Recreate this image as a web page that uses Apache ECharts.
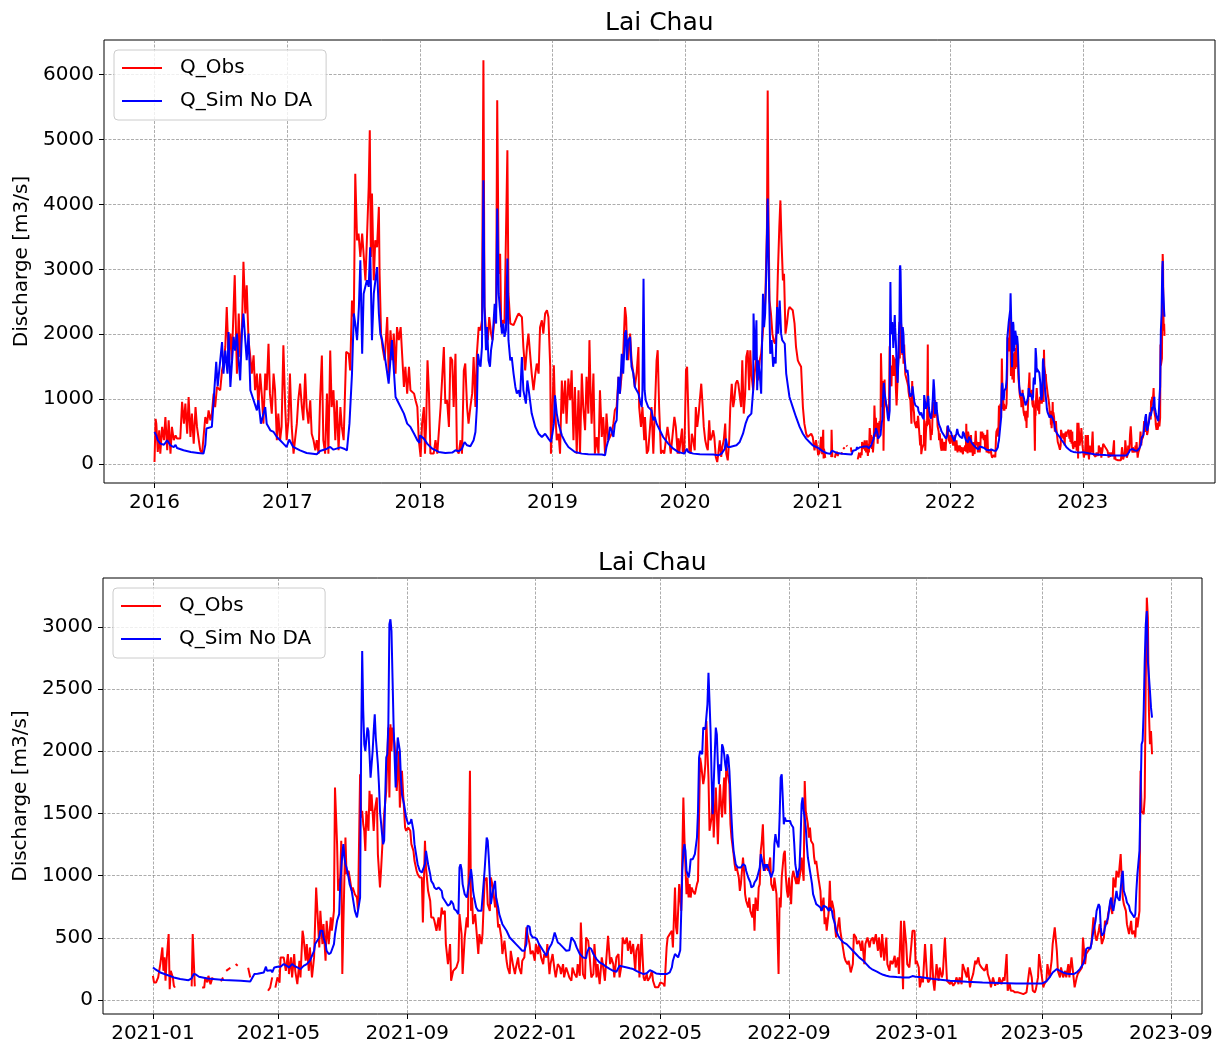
<!DOCTYPE html>
<html lang="en">
<head>
<meta charset="UTF-8">
<title>Lai Chau</title>
<style>
  html, body { margin: 0; padding: 0; background: #fff; }
  #main { width: 1227px; height: 1044px; }
</style>
</head>
<body>
<div id="main"></div>
<script src="https://cdn.jsdelivr.net/npm/echarts@6/dist/echarts.min.js"></script>
<script>
// daily discharge: [day of year, m3/s]
var obs2016 = [[0,35],[3,700],[5,625],[9,190],[13,523],[16,164],[21,575],[26,370],[30,728],[35,215],[39,677],[44,164],[48,575],[53,370],[58,445],[62,395],[71,395],[76,960],[81,625],[85,933],[90,470],[94,1035],[99,420],[103,780],[108,318],[113,880],[117,575],[122,370],[126,215],[131,164],[135,170],[140,728],[145,625],[149,830],[154,677],[158,780],[163,1087],[167,880],[172,1190],[181,1140],[186,1445],[190,1550],[195,1805],[199,2420],[204,1650],[209,2010],[213,1600],[221,2910],[227,1395],[232,2320],[236,1650],[241,2110],[245,3115],[250,2320],[254,2755],[259,1910],[264,1650],[268,1395],[273,1675],[277,1140],[282,1395],[286,880],[291,1395],[296,1035],[300,625],[305,1395],[309,1140],[314,1855],[318,1087],[323,780],[328,1395],[332,1140],[337,370],[341,780],[346,370],[350,575],[355,1830],[360,880],[364,370]];
var sim2016 = [[0,497],[5,440],[9,370],[16,318],[21,330],[26,300],[30,330],[35,370],[44,290],[53,265],[58,300],[62,250],[80,215],[100,190],[120,175],[135,164],[140,300],[143,550],[158,575],[163,600],[170,1575],[174,1200],[177,1190],[186,1880],[190,1395],[195,1750],[201,1395],[204,2035],[209,1190],[218,1960],[222,1750],[227,2010],[231,1650],[236,1290],[241,2060],[245,2320],[250,1910],[254,1600],[259,2010],[264,1140],[273,985],[282,830],[286,985],[293,625],[305,880],[309,625],[319,523],[328,497],[337,420],[346,370],[355,318],[364,267]];

var obs2017 = [[3,677],[7,1395],[12,575],[17,164],[21,370],[26,625],[30,985],[35,1240],[40,880],[44,677],[49,1395],[53,880],[58,625],[63,985],[67,470],[72,370],[77,215],[81,370],[86,164],[90,985],[95,1675],[99,370],[104,164],[109,1087],[113,164],[118,1750],[122,880],[127,1140],[132,370],[136,985],[141,215],[146,880],[150,575],[155,370],[162,1730],[169,1700],[173,1445],[178,2520],[183,2265],[187,4470],[192,3445],[196,3550],[201,3190],[206,3550],[210,3575],[215,2830],[219,3445],[224,4265],[227,5140],[230,3190],[233,4165],[238,2830],[242,3445],[247,3340],[252,3960],[254,2930],[258,2010],[262,1805],[268,1600],[275,2265],[279,1395],[284,2060],[289,1600],[293,2010],[298,1395],[302,2110],[307,1910],[312,2110],[316,1700],[321,1190],[325,1500],[330,1087],[335,1500],[339,1140],[349,1087],[353,985],[358,880],[362,370]];
var sim2017 = [[0,300],[5,380],[16,267],[35,215],[53,174],[81,154],[90,205],[109,240],[118,267],[127,225],[146,260],[158,235],[164,215],[171,625],[178,1395],[183,2320],[187,2165],[192,1910],[197,2420],[201,3140],[206,1700],[210,2625],[219,2830],[224,2730],[228,3340],[233,1910],[238,2625],[247,3035],[252,2320],[256,2010],[261,1910],[270,1600],[279,1240],[288,1910],[298,1035],[307,935],[321,780],[330,625],[339,575],[349,470],[358,370],[364,330]];

var obs2018 = [[2,113],[6,625],[11,880],[14,164],[17,575],[21,1600],[25,1100],[29,164],[34,140],[38,164],[43,370],[48,164],[52,164],[57,880],[61,880],[66,1805],[70,933],[75,985],[80,575],[84,1650],[89,1600],[93,880],[98,1700],[102,215],[107,164],[112,370],[116,164],[121,1445],[125,1550],[130,880],[134,625],[139,880],[144,1087],[148,1650],[153,880],[157,1700],[162,2110],[167,2060],[171,2215],[175,6215],[178,2420],[182,2060],[187,1910],[191,2265],[196,2010],[200,1910],[205,2215],[210,2420],[213,5600],[217,2930],[221,3240],[224,2110],[228,2215],[233,2165],[237,2165],[241,4830],[244,2625],[249,2165],[253,2165],[258,2140],[263,2165],[267,2265],[272,2320],[276,2345],[281,2265],[285,1805],[290,1445],[295,1805],[299,2010],[304,2010],[308,1395],[313,1140],[318,1395],[322,1550],[327,1395],[331,2110],[336,2215],[340,2010],[345,2320],[350,2370],[354,2265],[359,1500],[361,164],[364,164]];
var sim2018 = [[0,445],[5,470],[11,395],[20,318],[34,240],[52,190],[70,174],[89,180],[98,215],[107,200],[116,240],[123,343],[130,292],[139,277],[148,370],[153,497],[157,880],[160,1700],[164,1550],[167,1500],[171,1805],[175,4370],[178,2420],[182,1755],[185,2110],[189,1600],[193,1500],[196,1755],[200,1910],[206,2470],[210,2165],[213,3935],[217,2625],[220,2420],[226,2010],[230,2165],[233,1960],[237,2060],[241,3165],[244,1910],[249,1600],[253,1650],[258,1395],[263,1190],[267,1087],[272,1140],[276,1035],[281,1650],[285,1140],[292,933],[296,1290],[301,1087],[308,780],[318,575],[327,470],[336,420],[345,470],[354,395],[361,343]];

var obs2019 = [[0,164],[4,1525],[7,880],[12,370],[17,470],[21,164],[26,1290],[30,780],[35,1290],[39,625],[44,1318],[49,985],[53,1445],[58,370],[62,1190],[67,164],[72,1140],[76,164],[81,1395],[85,880],[90,523],[94,1345],[99,780],[102,1910],[105,1140],[108,625],[113,1395],[117,164],[122,420],[127,164],[131,1140],[136,420],[140,728],[145,164],[149,780],[154,370],[159,370],[163,470],[168,625],[172,830],[177,880],[182,1345],[186,1087],[191,1395],[195,1700],[200,2420],[203,2265],[205,1910],[209,1600],[214,2010],[218,1600],[223,1395],[227,1190],[232,1395],[237,1805],[239,880],[244,575],[248,880],[253,370],[255,728],[260,164],[264,215],[269,575],[273,880],[278,164],[282,138],[287,1600],[290,1755],[294,880],[299,164],[304,215],[308,164],[313,164],[317,575],[322,370],[326,164],[331,164],[336,728],[340,575],[345,164],[347,400],[349,164],[354,164],[357,550],[359,200],[363,164]];
var sim2019 = [[0,470],[4,625],[7,1060],[12,780],[17,625],[26,445],[35,343],[44,267],[62,190],[81,164],[99,154],[136,150],[145,138],[149,267],[154,370],[159,575],[163,523],[168,420],[172,625],[177,677],[182,1345],[186,1087],[191,1700],[195,1395],[200,2010],[203,2060],[205,1600],[209,1910],[214,1960],[218,1500],[223,1395],[227,1190],[232,1140],[237,1087],[241,985],[246,880],[248,1140],[251,2855],[254,1140],[257,985],[264,880],[273,830],[278,677],[282,728],[287,625],[296,523],[305,420],[319,318],[333,240],[346,190],[364,164]];

var obs2020 = [[0,600],[3,1445],[6,1500],[9,880],[12,215],[16,164],[19,470],[23,370],[27,215],[30,880],[34,575],[38,780],[41,985],[45,1240],[49,880],[52,575],[56,370],[60,267],[63,215],[67,677],[70,370],[74,420],[78,523],[81,420],[85,113],[89,35],[92,164],[96,370],[100,113],[103,267],[107,370],[111,625],[114,164],[118,60],[122,370],[125,880],[129,1240],[133,880],[136,985],[140,1240],[144,1290],[147,1240],[151,1240],[155,880],[158,1600],[162,780],[166,1087],[169,1650],[173,1755],[177,1140],[180,1755],[183,1395],[188,1140],[192,1395],[197,1650],[201,1290],[206,1600],[210,1700],[215,2060],[220,2320],[222,2680],[226,3650],[228,5750],[230,3960],[233,2520],[237,2320],[241,2010],[244,1910],[248,1855],[252,2010],[256,2930],[260,3650],[263,4060],[266,3445],[270,2830],[273,2930],[277,2010],[281,2165],[285,2370],[288,2420],[293,2420],[297,2370],[302,2165],[306,1805],[311,1600],[315,1550],[320,1500],[325,880],[329,625],[334,470],[338,420],[343,420],[348,470],[352,420],[357,215],[361,370]];
var sim2020 = [[0,164],[5,240],[9,190],[23,164],[41,154],[78,150],[92,138],[101,164],[110,240],[113,395],[117,267],[124,267],[142,292],[151,343],[160,470],[167,625],[174,728],[178,754],[183,780],[188,1140],[189,2320],[193,1600],[197,2215],[199,1140],[202,1600],[206,1395],[210,1087],[215,2625],[218,2110],[221,2320],[224,2930],[228,4090],[232,2625],[235,1700],[239,1910],[243,1500],[246,1650],[250,1550],[254,2420],[257,2010],[261,2520],[265,2010],[268,1910],[275,1855],[279,1395],[284,1190],[288,1035],[297,880],[306,728],[316,575],[325,470],[334,395],[343,343],[352,292],[361,267]];

// null = missing observation
var obs2021 = [[0,195],[1,142],[3,142],[5,182],[7,289],[9,423],[10,235],[11,343],[12,155],[13,316],[15,530],[16,88],[17,235],[19,182],[20,115],[21,100],[22,null],[37,110],[38,530],[40,110],[41,null],[47,100],[49,100],[50,182],[52,142],[53,195],[55,128],[57,182],[58,null],[65,150],[67,182],[68,null],[70,235],[74,260],[75,null],[79,289],[81,275],[82,null],[91,260],[93,182],[94,null],[110,75],[112,100],[114,182],[115,null],[117,100],[119,182],[121,140],[122,343],[125,343],[127,235],[129,370],[130,209],[132,343],[133,182],[135,370],[136,235],[138,128],[140,316],[141,182],[143,557],[144,503],[146,316],[147,450],[149,235],[150,423],[152,182],[154,343],[156,905],[157,744],[159,423],[160,717],[162,450],[163,610],[165,316],[166,637],[168,450],[170,664],[171,557],[173,717],[174,1708],[176,1253],[177,878],[179,985],[180,1280],[181,209],[183,985],[184,1306],[185,1012],[187,1039],[188,985],[190,878],[191,905],[193,851],[195,824],[196,717],[198,1815],[199,1467],[200,1520],[201,1413],[202,1360],[203,1199],[204,1520],[206,1360],[207,1681],[208,1520],[209,1654],[211,1360],[212,1520],[214,1628],[215,1173],[217,905],[218,1039],[220,1360],[221,1494],[223,1681],[225,2190],[226,1628],[227,2217],[228,2002],[229,2190],[231,2056],[232,1895],[233,1681],[235,2002],[236,1547],[238,1842],[239,1681],[241,1387],[242,1360],[244,1387],[246,1360],[247,1253],[249,1199],[250,1119],[252,1039],[253,1012],[255,985],[257,985],[258,624],[260,1280],[261,1065],[263,878],[265,798],[266,664],[268,664],[269,637],[271,557],[273,664],[274,557],[276,744],[277,691],[279,717],[280,450],[282,289],[284,450],[285,155],[287,235],[288,220],[290,262],[292,316],[293,691],[295,530],[296,209],[298,503],[300,664],[301,584],[303,1842],[304,717],[305,824],[306,610],[308,691],[309,584],[311,370],[312,530],[314,450],[315,530],[317,958],[319,985],[320,771],[322,717],[323,985],[325,905],[327,744],[328,824],[330,584],[331,610],[333,503],[334,370],[336,477],[338,316],[339,262],[341,209],[342,396],[344,289],[346,209],[347,262],[349,343],[350,262],[352,209],[353,316],[355,343],[357,584],[358,530],[360,450],[361,370],[363,396]];
var sim2021 = [[0,262],[2,249],[7,222],[13,203],[20,182],[26,169],[34,160],[37,175],[39,209],[41,205],[44,187],[52,174],[68,161],[84,155],[93,150],[97,209],[100,212],[106,222],[108,268],[109,235],[113,240],[114,222],[116,262],[119,268],[122,268],[125,289],[128,275],[130,262],[133,289],[135,275],[138,262],[141,249],[144,275],[147,289],[150,316],[154,396],[155,450],[157,477],[159,503],[160,557],[162,557],[163,503],[165,450],[166,396],[168,370],[170,380],[171,396],[173,450],[174,530],[176,637],[178,691],[179,932],[181,1173],[182,1253],[183,1146],[184,1092],[185,1065],[187,985],[188,932],[190,878],[191,824],[193,717],[195,664],[196,664],[198,824],[199,2056],[200,2805],[201,2324],[202,2056],[203,2002],[205,2190],[206,2163],[207,1976],[208,1788],[210,2002],[211,2163],[212,2297],[213,2110],[215,1895],[216,1735],[217,1520],[219,1333],[220,1253],[221,1280],[222,1628],[223,1949],[224,1976],[225,2217],[226,3020],[227,3060],[228,2966],[229,2591],[230,2217],[231,1949],[232,1708],[233,1949],[234,2110],[235,2110],[236,2002],[237,1788],[238,1654],[240,1574],[242,1467],[244,1413],[246,1426],[247,1454],[249,1360],[250,1253],[252,1146],[253,1092],[255,1039],[257,1025],[258,1039],[260,1092],[261,1199],[263,1092],[265,1012],[266,958],[268,932],[269,905],[271,891],[273,905],[274,918],[276,878],[277,824],[279,798],[280,790],[282,758],[284,771],[285,798],[287,771],[288,731],[290,717],[292,691],[293,1065],[294,1092],[295,1050],[296,932],[298,851],[300,824],[301,824],[303,985],[304,1052],[305,985],[306,878],[307,824],[309,744],[311,717],[312,704],[314,717],[315,824],[317,1039],[319,1306],[320,1280],[321,1146],[322,985],[323,771],[325,878],[327,958],[328,824],[330,744],[331,691],[334,610],[338,557],[341,503],[344,477],[347,450],[350,423],[353,396],[355,396],[357,450],[358,597],[360,590],[361,530],[363,503]];

var obs2022 = [[0,316],[1,450],[3,370],[4,450],[6,343],[8,289],[9,370],[11,343],[12,450],[14,209],[15,289],[17,370],[19,235],[20,182],[22,289],[24,262],[25,209],[27,289],[28,182],[30,262],[32,209],[33,182],[35,155],[36,262],[38,209],[40,182],[41,289],[43,195],[44,624],[46,209],[48,169],[49,503],[51,477],[52,396],[54,182],[56,209],[57,450],[59,182],[60,289],[62,128],[64,343],[65,289],[67,155],[68,289],[70,517],[72,289],[73,343],[75,289],[76,182],[78,343],[80,370],[81,182],[83,289],[84,503],[86,450],[88,503],[89,396],[91,477],[92,370],[94,450],[96,235],[97,396],[99,450],[100,182],[102,530],[104,182],[105,155],[107,209],[108,155],[110,182],[112,235],[113,155],[115,102],[116,88],[118,102],[120,142],[121,150],[123,130],[124,110],[126,423],[127,503],[129,530],[131,557],[132,423],[134,905],[135,584],[136,530],[137,717],[138,932],[139,932],[140,717],[142,1628],[143,1306],[144,1065],[145,851],[146,985],[147,824],[148,932],[149,824],[150,905],[151,878],[153,851],[155,932],[156,958],[157,1467],[158,1949],[159,1895],[161,1735],[162,1788],[163,1895],[164,2243],[165,2002],[166,1788],[167,1360],[169,1467],[170,1681],[171,1306],[172,1520],[173,1708],[174,1494],[175,1253],[176,1520],[177,1735],[178,1574],[179,1467],[181,1788],[182,1494],[183,1895],[185,1788],[186,1735],[187,1413],[188,1306],[190,1173],[191,1092],[192,1039],[193,1065],[195,985],[196,878],[197,932],[199,1146],[200,1039],[201,851],[202,798],[204,744],[205,824],[206,717],[208,664],[209,771],[210,557],[211,824],[213,717],[214,905],[215,932],[216,1199],[217,1280],[218,1413],[219,1146],[220,1039],[222,1092],[223,1039],[225,1146],[226,932],[228,878],[229,985],[231,851],[233,209],[234,824],[235,744],[236,985],[238,1173],[239,1199],[240,985],[241,878],[242,824],[243,985],[245,771],[246,985],[247,1039],[248,1039],[250,932],[251,1039],[252,932],[254,1039],[255,1146],[257,958],[258,1761],[259,1520],[261,1413],[262,1306],[263,1387],[264,1280],[266,1253],[267,1146],[268,1092],[269,1119],[271,985],[272,932],[273,878],[274,717],[276,824],[277,610],[278,664],[279,557],[281,717],[282,958],[283,717],[284,798],[286,717],[287,584],[288,503],[289,557],[291,664],[292,557],[293,503],[294,450],[296,343],[297,316],[299,289],[300,316],[302,222],[304,289],[305,530],[307,503],[308,450],[310,477],[312,396],[313,477],[315,289],[316,450],[318,503],[320,423],[321,477],[323,503],[324,450],[326,530],[328,396],[329,503],[331,343],[332,530],[334,316],[336,503],[337,289],[339,235],[340,316],[342,289],[344,356],[345,262],[347,343],[348,209],[350,637],[352,88],[353,637],[355,450],[356,289],[358,262],[360,450],[361,557],[363,557],[364,289]];
var sim2022 = [[0,503],[2,490],[4,450],[8,396],[11,356],[12,365],[14,423],[16,450],[17,477],[19,543],[20,517],[22,463],[24,450],[27,423],[30,396],[33,400],[35,503],[36,517],[38,470],[40,423],[43,370],[46,343],[49,335],[50,383],[52,423],[54,410],[56,370],[59,329],[62,302],[65,289],[68,268],[72,249],[75,235],[78,228],[81,276],[84,270],[88,262],[91,255],[94,249],[97,235],[100,222],[104,209],[107,215],[110,241],[113,228],[116,214],[120,209],[123,209],[126,209],[129,222],[131,262],[132,316],[134,370],[135,355],[137,343],[139,400],[140,717],[141,1039],[142,1199],[143,1253],[144,1199],[145,1039],[147,985],[148,1039],[149,1132],[150,1146],[151,1132],[153,1173],[155,1306],[156,1520],[157,1949],[158,2002],[160,1976],[161,2190],[162,2177],[163,2177],[165,2377],[166,2631],[167,2404],[168,2163],[169,1788],[170,1494],[171,1735],[172,1976],[173,2190],[174,2136],[175,1895],[176,1735],[177,1895],[178,1842],[179,2056],[180,2029],[181,1976],[182,1895],[183,1842],[184,1976],[185,1949],[186,1842],[187,1654],[188,1467],[189,1306],[190,1199],[191,1146],[192,1092],[194,1065],[195,1052],[197,1065],[198,1052],[199,1092],[201,1080],[202,1039],[204,985],[206,945],[207,905],[209,918],[210,945],[212,970],[213,999],[215,1065],[216,1173],[218,1092],[219,1039],[220,1092],[221,1065],[222,1092],[224,1039],[226,985],[227,970],[228,1039],[229,1253],[230,1333],[231,1280],[233,1226],[234,1467],[235,1788],[236,1815],[237,1628],[238,1413],[239,1467],[240,1440],[244,1440],[245,1413],[247,1387],[248,1253],[249,1092],[250,1039],[251,985],[253,1065],[254,1280],[255,1574],[256,1628],[257,1520],[258,1467],[259,1387],[260,1253],[261,1146],[263,1039],[265,932],[266,851],[268,798],[269,771],[271,758],[273,744],[274,717],[276,758],[277,771],[279,744],[281,717],[282,744],[284,717],[285,664],[287,610],[288,557],[290,517],[292,490],[295,463],[298,450],[301,423],[304,396],[307,370],[310,343],[314,316],[317,289],[320,262],[323,244],[327,228],[330,214],[333,203],[336,195],[339,190],[346,185],[352,182],[358,182],[361,193],[364,187]];

var obs2023 = [[0,316],[2,262],[3,102],[5,182],[6,142],[8,450],[10,182],[11,142],[13,169],[14,450],[16,142],[17,75],[19,289],[21,155],[22,262],[24,182],[25,209],[27,503],[29,155],[30,142],[32,128],[33,155],[35,115],[37,142],[38,182],[40,128],[41,182],[43,128],[44,289],[46,235],[48,182],[49,262],[51,102],[52,155],[54,209],[56,316],[57,289],[59,343],[60,289],[62,262],[63,275],[65,235],[67,289],[68,209],[70,155],[71,102],[73,182],[75,115],[76,142],[78,128],[79,182],[81,128],[83,182],[84,155],[86,370],[87,75],[89,128],[90,75],[92,75],[94,62],[95,75],[97,62],[98,62],[100,54],[102,48],[103,54],[105,62],[106,48],[108,262],[110,182],[111,75],[113,62],[114,88],[116,182],[117,370],[119,235],[121,102],[122,128],[124,155],[125,289],[127,182],[129,316],[130,450],[132,584],[134,396],[135,235],[137,182],[138,262],[140,182],[142,235],[143,182],[145,289],[146,182],[148,343],[150,182],[151,102],[153,182],[154,209],[156,235],[158,262],[159,503],[161,289],[162,370],[164,396],[166,423],[167,450],[169,664],[171,503],[172,477],[174,557],[175,610],[177,450],[179,503],[180,637],[182,610],[183,691],[185,771],[187,691],[188,985],[190,905],[191,1039],[193,985],[195,1173],[196,985],[197,824],[198,771],[200,717],[201,610],[203,530],[205,637],[206,530],[208,557],[209,503],[210,664],[211,584],[213,717],[214,1842],[215,1520],[217,1494],[218,1628],[219,2591],[220,3234],[221,3073],[222,2324],[223,2056],[224,2163],[225,1976]];
var sim2023 = [[0,187],[3,185],[16,169],[32,155],[48,147],[63,142],[79,137],[95,134],[111,134],[120,134],[124,150],[127,182],[130,222],[134,249],[137,235],[140,222],[143,214],[146,209],[150,209],[153,222],[156,249],[159,289],[161,343],[162,410],[164,423],[166,410],[167,450],[169,557],[171,637],[172,717],[174,771],[175,750],[176,584],[177,517],[179,540],[180,584],[182,637],[183,664],[185,798],[186,824],[187,744],[188,717],[190,824],[191,878],[192,824],[194,798],[195,810],[196,985],[197,1039],[198,878],[200,824],[201,784],[203,758],[204,717],[206,691],[208,664],[209,690],[210,878],[211,1012],[212,1012],[213,1199],[214,1628],[215,2056],[216,2083],[217,2324],[218,2725],[219,3020],[220,3127],[221,2725],[223,2484],[224,2350],[225,2270]];

var seriesNames = ['Q_Obs', 'Q_Sim No DA'];
var topYTicks = [0, 1000, 2000, 3000, 4000, 5000, 6000];
var bottomYTicks = [0, 500, 1000, 1500, 2000, 2500, 3000];
var topYears = [2016, 2017, 2018, 2019, 2020, 2021, 2022, 2023];
var bottomMonths = ['2021-01', '2021-05', '2021-09', '2022-01', '2022-05', '2022-09', '2023-01', '2023-05', '2023-09'];

var DAY = 86400000;
var FONT = 'DejaVu Sans';

function toPoints(year, pairs) {
    return pairs.map(function (p) {
        return [new Date(year, 0, 1 + p[0]).getTime(), p[1] === null ? '-' : p[1]];
    });
}
function join(list) {
    var out = [];
    list.forEach(function (it) { out = out.concat(toPoints(it[0], it[1])); });
    return out;
}

var obsTop = join([[2016, obs2016], [2017, obs2017], [2018, obs2018], [2019, obs2019], [2020, obs2020], [2021, obs2021], [2022, obs2022], [2023, obs2023]]);
var simTop = join([[2016, sim2016], [2017, sim2017], [2018, sim2018], [2019, sim2019], [2020, sim2020], [2021, sim2021], [2022, sim2022], [2023, sim2023]]);
var obsBottom = join([[2021, obs2021], [2022, obs2022], [2023, obs2023]]);
var simBottom = join([[2021, sim2021], [2022, sim2022], [2023, sim2023]]);

var t2016 = new Date(2016, 0, 1).getTime();
var t2021 = new Date(2021, 0, 1).getTime();

var yearTicks = topYears.map(function (y) { return new Date(y, 0, 1).getTime(); });
var monthTicks = bottomMonths.map(function (s) {
    var a = s.split('-');
    return new Date(+a[0], +a[1] - 1, 1).getTime();
});

function pad2(n) { return n < 10 ? '0' + n : '' + n; }

var gridLine = { show: true, lineStyle: { color: '#8a8a8a', width: 0.7, type: [3, 1.5] } };
var tickStyle = { color: '#000', width: 1 };
var labelStyle = { color: '#000', fontFamily: FONT, fontSize: 20, margin: 10 };

// dates go on a plain value axis (ms timestamps) so the ticks can sit on
// exactly the calendar dates the reference uses
function xAxis(gi, min, max, ticks, fmt) {
    return {
        type: 'value', gridIndex: gi, min: min, max: max,
        axisLine: { show: false, onZero: false },
        axisTick: { show: true, customValues: ticks, length: 5, lineStyle: tickStyle },
        axisLabel: Object.assign({ customValues: ticks, formatter: fmt, hideOverlap: false }, labelStyle),
        splitLine: gridLine
    };
}
function yAxis(gi, min, max, ticks) {
    return {
        type: 'value', gridIndex: gi, min: min, max: max,
        name: 'Discharge [m3/s]', nameLocation: 'middle', nameGap: 70,
        nameTextStyle: { color: '#000', fontFamily: FONT, fontSize: 20 },
        axisLine: { show: false, onZero: false },
        axisTick: { show: true, customValues: ticks, length: 5, lineStyle: tickStyle },
        axisLabel: Object.assign({ customValues: ticks, formatter: function (v) { return String(v); } }, labelStyle),
        splitLine: gridLine
    };
}
function legend(left, top) {
    return {
        data: seriesNames, left: left, top: top, orient: 'vertical',
        icon: 'rect', itemWidth: 40, itemHeight: 2, itemGap: 13,
        padding: [8, 14, 9, 8],
        backgroundColor: 'rgba(255,255,255,0.8)', borderColor: '#cccccc', borderWidth: 1, borderRadius: 4,
        selectedMode: false,
        textStyle: { color: '#000', fontFamily: FONT, fontSize: 20, padding: [0, 0, 0, 13] }
    };
}
function line(name, gi, data, color) {
    return {
        name: name, type: 'line', xAxisIndex: gi, yAxisIndex: gi, data: data,
        showSymbol: false, symbol: 'none', silent: true,
        lineStyle: { color: color, width: 2 }, itemStyle: { color: color },
        emphasis: { disabled: true }
    };
}
// plot titles centred over their own plot box, not the page
function title(centerX, top) {
    return {
        text: 'Lai Chau', left: centerX - 54, top: top, padding: 0,
        textStyle: { color: '#000', fontFamily: FONT, fontSize: 25, fontWeight: 'normal' }
    };
}

var chart = echarts.init(document.getElementById('main'));
chart.setOption({
    animation: false,
    backgroundColor: '#fff',
    title: [title(659, 11), title(652, 551)],
    legend: [legend(114, 50), legend(113, 588)],
    grid: [
        { left: 104, top: 40, width: 1111, height: 443, show: true, borderColor: '#000', borderWidth: 1, backgroundColor: 'transparent' },
        { left: 103, top: 578, width: 1099, height: 437, show: true, borderColor: '#000', borderWidth: 1, backgroundColor: 'transparent' }
    ],
    xAxis: [
        xAxis(0, t2016 - 139.1 * DAY, t2016 + 2921.1 * DAY, yearTicks,
              function (v) { return String(new Date(v).getFullYear()); }),
        xAxis(1, t2021 - 47.75 * DAY, t2021 + 1002.75 * DAY, monthTicks,
              function (v) { var d = new Date(v); return d.getFullYear() + '-' + pad2(d.getMonth() + 1); })
    ],
    yAxis: [
        yAxis(0, -288, 6528, topYTicks),
        yAxis(1, -112, 3392, bottomYTicks)
    ],
    series: [
        line(seriesNames[0], 0, obsTop, '#ff0000'),
        line(seriesNames[1], 0, simTop, '#0000ff'),
        line(seriesNames[0], 1, obsBottom, '#ff0000'),
        line(seriesNames[1], 1, simBottom, '#0000ff')
    ]
});
</script>
</body>
</html>
